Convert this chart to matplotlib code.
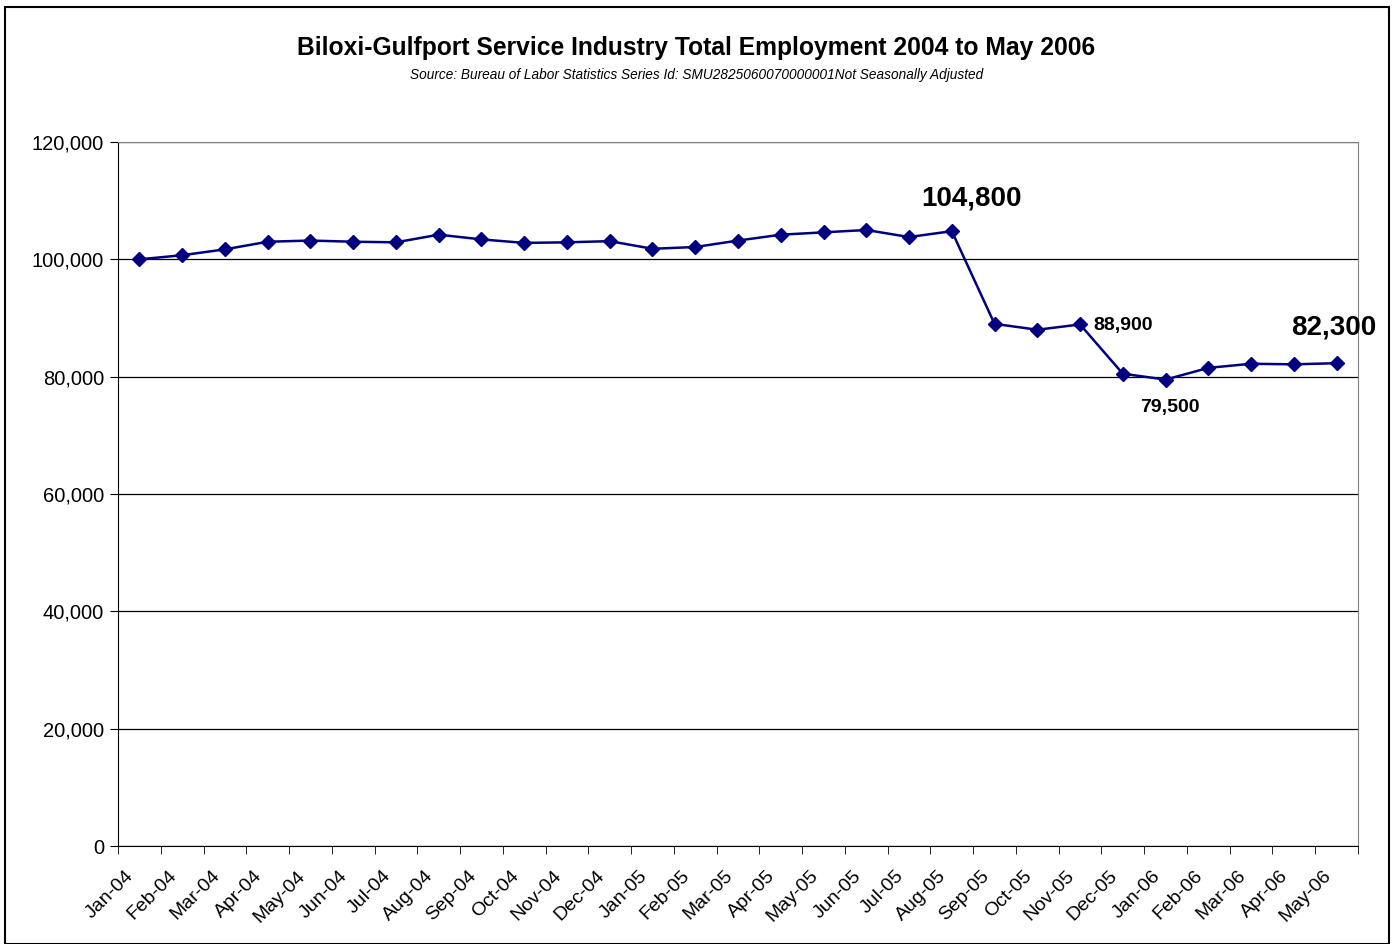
import numpy as np
import matplotlib.pyplot as plt
import matplotlib.transforms as mtransforms
from matplotlib.patches import Rectangle

plt.rcParams['font.family'] = ['Liberation Sans', 'DejaVu Sans']

months = ["Jan-04", "Feb-04", "Mar-04", "Apr-04", "May-04", "Jun-04", "Jul-04", "Aug-04",
          "Sep-04", "Oct-04", "Nov-04", "Dec-04", "Jan-05", "Feb-05", "Mar-05", "Apr-05",
          "May-05", "Jun-05", "Jul-05", "Aug-05", "Sep-05", "Oct-05", "Nov-05", "Dec-05",
          "Jan-06", "Feb-06", "Mar-06", "Apr-06", "May-06"]
employment = [100000, 100700, 101700, 103000, 103200, 103000, 102900, 104200,
              103400, 102800, 102900, 103100, 101800, 102100, 103200, 104200,
              104600, 105000, 103800, 104800, 89000, 88000, 88900, 80500,
              79500, 81500, 82200, 82100, 82300]

fig = plt.figure(figsize=(13.93, 9.44), dpi=100)
ax = fig.add_axes([118/1393, 1-846/944, (1358-118)/1393, (846-142)/944])

x = np.arange(len(months))
ax.plot(x, employment, color="#000080", lw=1.8, marker="D", ms=7.5, zorder=3)

ax.set_xlim(-0.5, len(months)-0.5)
ax.set_ylim(0, 120000)
ax.set_yticks(np.arange(0, 120001, 20000))
ax.set_yticklabels([f"{v:,}" for v in range(0, 120001, 20000)], fontsize=14.5)
ax.yaxis.grid(True, color="black", lw=0.9)
ax.set_axisbelow(True)

# category labels in the middle, tick marks on the boundaries
ax.set_xticks(x)
ax.set_xticklabels(months, rotation=45, ha="right", rotation_mode="anchor", fontsize=14)
ax.tick_params(axis="x", length=0, pad=11)
ax.set_xticks(np.arange(-0.5, len(months)), minor=True)
ax.tick_params(axis="x", which="minor", length=6, direction="out", color="black")
ax.tick_params(axis="y", length=6, direction="out", color="black", pad=4)

# nudge the slanted labels down-left so they hang under their category
shift = mtransforms.ScaledTranslation(-14/100, -6/100, fig.dpi_scale_trans)
for lbl in ax.get_xticklabels():
    lbl.set_transform(lbl.get_transform() + shift)

for s in ["top", "right"]:
    ax.spines[s].set_color("#808080")
for s in ["left", "bottom"]:
    ax.spines[s].set_color("black")

# value callouts
ax.text(19.46, employment[19] + 5500, f"{employment[19]:,}", fontsize=20, fontweight="bold",
        ha="center", va="center")
ax.text(22.31, employment[22] - 250, f"{employment[22]:,}", fontsize=14, fontweight="bold",
        ha="left", va="center")
ax.text(24.11, employment[24] - 4750, f"{employment[24]:,}", fontsize=14, fontweight="bold",
        ha="center", va="center")
ax.text(27.93, employment[28] + 6000, f"{employment[28]:,}", fontsize=20, fontweight="bold",
        ha="center", va="center")

fig.text(0.5, 1-48/944, "Biloxi-Gulfport Service Industry Total Employment 2004 to May 2006",
         ha="center", va="center", fontsize=17.7, fontweight="bold")
fig.text(0.5, 1-75/944, "Source: Bureau of Labor Statistics Series Id: SMU2825060070000001Not Seasonally Adjusted",
         ha="center", va="center", fontsize=9.8, style="italic")

fig.patches.append(Rectangle((5/1393, 0), 1384/1393, 1-7/944, transform=fig.transFigure,
                             fill=False, edgecolor="black", lw=1.5))

fig.savefig("out.png", dpi=100)
